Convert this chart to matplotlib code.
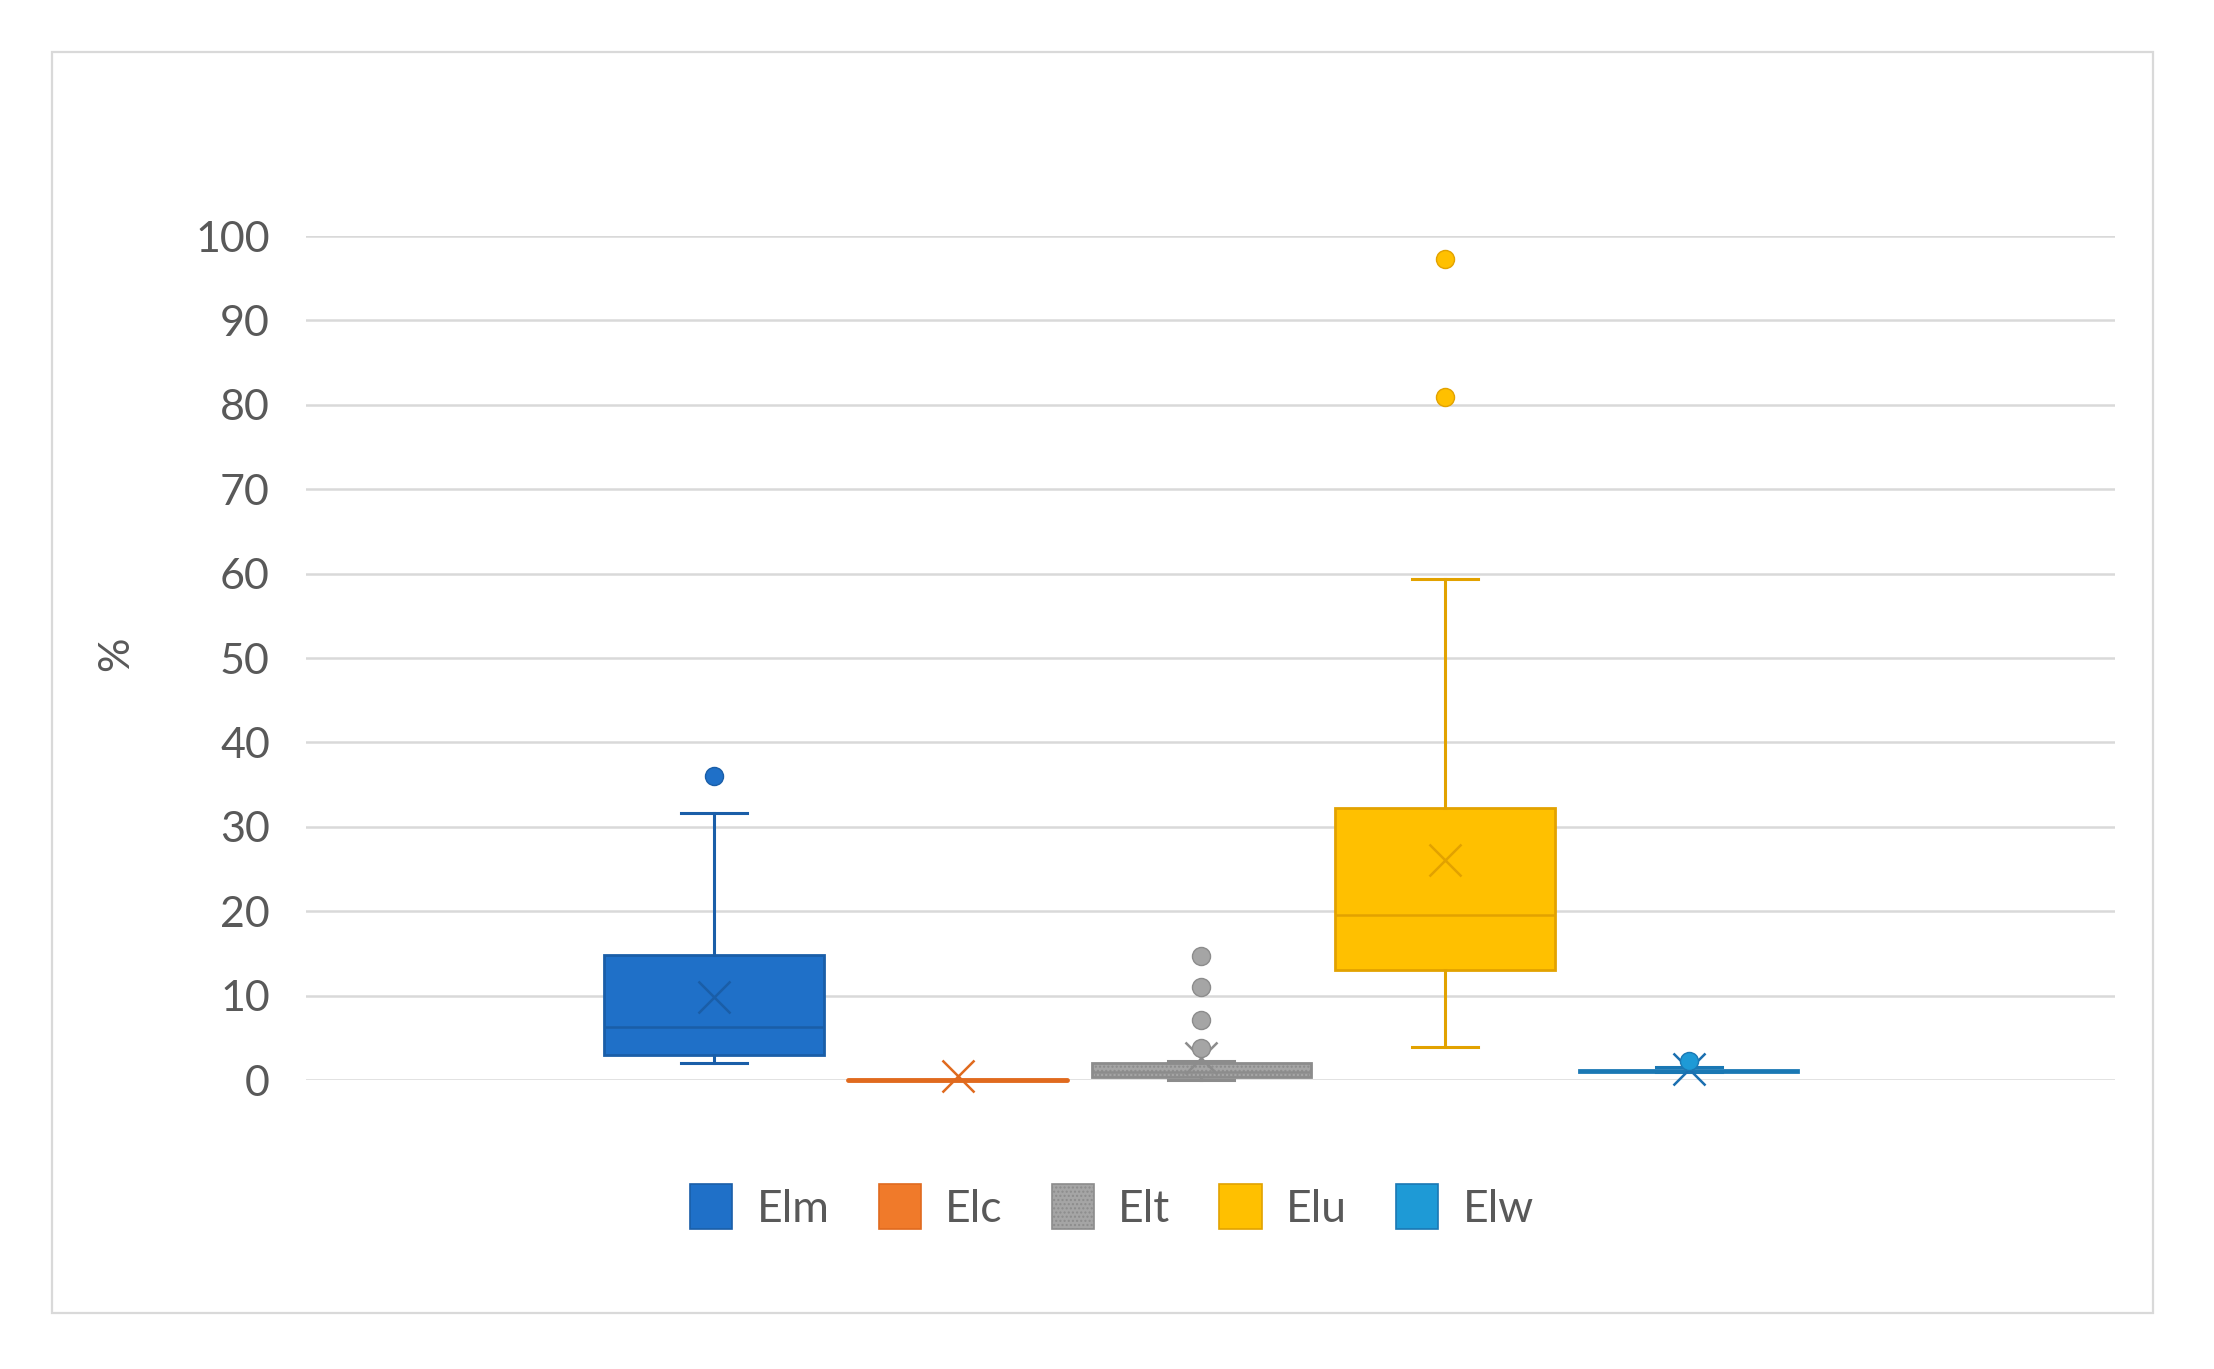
import matplotlib
matplotlib.use("Agg")
import matplotlib.pyplot as plt
from matplotlib.patches import Patch, Rectangle

plt.rcParams['font.family'] = ['Lato', 'DejaVu Sans']

# ---- data ----
categories = ["Elm", "Elc", "Elt", "Elu", "Elw"]
q1 = [3.0, 0.0, 0.3, 13.0, 1.0]
median = [6.3, 0.0, 1.0, 19.5, 1.1]
q3 = [14.8, 0.0, 2.0, 32.2, 1.2]
whislo = [2.0, 0.0, 0.0, 3.9, 0.9]
whishi = [31.6, 0.0, 2.3, 59.4, 1.5]
means = [9.8, 0.5, 2.6, 26.1, 1.3]
outliers = [[36.0], [], [3.8, 7.1, 11.0, 14.7], [80.9, 97.3], [2.2]]
yticks = list(range(0, 101, 10))

face_colors = ["#1F70C8", "#F07A2A", "#A5A5A5", "#FFC000", "#1E9AD6"]
edge_colors = ["#1A5EA8", "#E06A1E", "#8C8C8C", "#E2A200", "#1A78B4"]
mean_colors = ["#1A5EA8", "#E06A1E", "#8C8C8C", "#E2A200", "#1A6FB0"]

W, H = 2214, 1369
fig = plt.figure(figsize=(W / 100, H / 100), dpi=100)
fig.patch.set_facecolor("white")

# outer chart border
fig.add_artist(Rectangle((52 / W, 1 - 1313 / H), (2153 - 52) / W, (1313 - 52) / H,
                         transform=fig.transFigure, fill=False,
                         edgecolor="#D9D9D9", linewidth=1.6))

ax = fig.add_axes([306 / W, 1 - 1080 / H, (2115 - 306) / W, (1080 - 236) / H])

stats = []
for i, name in enumerate(categories):
    stats.append(dict(label=name, q1=q1[i], med=median[i], q3=q3[i],
                      whislo=whislo[i], whishi=whishi[i], mean=means[i],
                      fliers=outliers[i]))

positions = list(range(len(categories)))
for i, st in enumerate(stats):
    fc = face_colors[i]
    ec = edge_colors[i]
    bp = ax.bxp([st], positions=[positions[i]], widths=0.9, patch_artist=True,
                showmeans=True, showfliers=True,
                boxprops=dict(facecolor=fc, edgecolor=ec, linewidth=2.0,
                              hatch='....' if i == 2 else None),
                medianprops=dict(color=ec, linewidth=1.8),
                whiskerprops=dict(color=ec, linewidth=2.2),
                capprops=dict(color=ec, linewidth=2.2),
                capwidths=0.27,
                meanprops=dict(marker='x', markeredgecolor=mean_colors[i],
                               markerfacecolor='none', markersize=23,
                               markeredgewidth=1.8),
                flierprops=dict(marker='o', markerfacecolor=fc,
                                markeredgecolor=ec, markersize=13,
                                markeredgewidth=1.0))
    if i == 2:
        for b in bp['boxes']:
            b.set_edgecolor("#8C8C8C")
    for art in bp['boxes'] + bp['medians'] + bp['whiskers'] + bp['caps'] + bp['means'] + bp['fliers']:
        art.set_zorder(3)
        art.set_clip_on(False)
    if q1[i] == q3[i]:
        # collapsed box: draw as a thick line
        ax.plot([positions[i] - 0.45, positions[i] + 0.45], [q1[i], q1[i]],
                color=ec, linewidth=3.5, solid_capstyle='round', zorder=3,
                clip_on=False)

ax.set_xlim(-1.675, 5.75)
ax.set_ylim(0, 100)
ax.set_yticks(yticks)
ax.set_yticklabels([str(v) for v in yticks])
ax.set_xticks([])
ax.tick_params(axis='y', length=0, pad=26, labelsize=31, labelcolor="#595959")
ax.grid(axis='y', color="#D9D9D9", linewidth=1.8)
ax.set_axisbelow(True)
for s in ax.spines.values():
    s.set_visible(False)

fig.text(116 / W, 1 - 654 / H, "%", rotation=90, ha='center', va='center',
         fontsize=31, color="#595959")

handles = [Patch(facecolor=face_colors[i], edgecolor=edge_colors[i],
                 hatch='....' if i == 2 else None, linewidth=1.2)
           for i in range(len(categories))]
fig.legend(handles, categories, loc='center', bbox_to_anchor=(1112 / W, 1 - 1207 / H),
           ncol=5, frameon=False, fontsize=32, labelcolor="#595959",
           handlelength=0.95, handleheight=1.15, handletextpad=0.55, columnspacing=1.1)

fig.savefig("out.png", dpi=100, facecolor="white")
